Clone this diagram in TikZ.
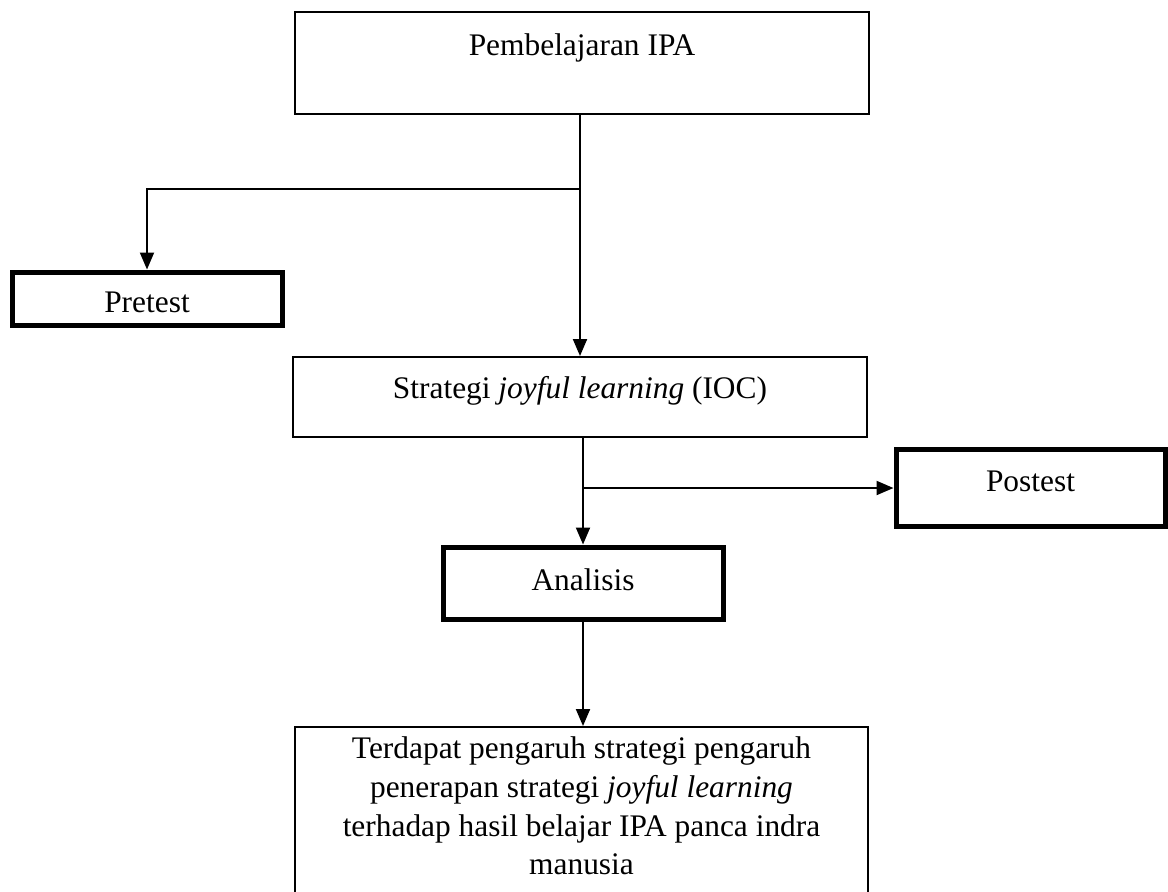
\documentclass[tikz,border=0pt]{standalone}
\usepackage{fontspec}
\setmainfont{Liberation Serif}
\usetikzlibrary{arrows.meta}
\begin{document}
\begin{tikzpicture}[x=0.5pt,y=-0.5pt,
  font=\fontsize{15.7}{19.35}\selectfont,
  thinbox/.style={draw, line width=1pt, inner sep=0pt, rectangle},
  thickbox/.style={draw, line width=2.5pt, inner sep=0pt, rectangle},
  conn/.style={line width=1pt, -{Triangle[length=8.5pt,width=7pt]}}
]
\useasboundingbox (0,0) rectangle (1168,891);
\clip (0,0) rectangle (1168,891);
\fill[white] (0,0) rectangle (1168,891);

% boxes
\node[thinbox, anchor=base, minimum width=287pt, text height=21.5pt, text depth=29.5pt] (top) at (582,55) {Pembelajaran IPA};
\node[thickbox, anchor=base, minimum width=135pt, text height=20pt, text depth=6.5pt] (pre) at (147,312) {Pretest};
\node[thinbox, anchor=base, minimum width=287pt, text height=20.5pt, text depth=19.5pt] (strat) at (580,398) {Strategi \textit{joyful learning} (IOC)};
\node[thickbox, anchor=base, minimum width=134.5pt, text height=21pt, text depth=17.5pt] (post) at (1030.5,491) {Postest};
\node[thickbox, anchor=base, minimum width=140pt, text height=21.5pt, text depth=14.5pt] (ana) at (583,590) {Analisis};
\node[thinbox, anchor=north, minimum width=286.5pt, minimum height=110pt] (res) at (581.5,726) {};
\node[anchor=north, inner sep=0pt, align=center] (restext) at (581.5,736.5) {Terdapat pengaruh strategi pengaruh\\penerapan strategi \textit{joyful learning}\\terhadap hasil belajar IPA panca indra\\manusia};

% connectors
\draw[conn] (strat.north |- top.south) -- (strat.north);
\coordinate (b1) at (strat.north |- 0,189);
\draw[conn] (b1) -| (pre.north);
\draw[conn] (ana.north |- strat.south) -- (ana.north);
\coordinate (b2) at (ana.north |- 0,488);
\draw[conn] (b2) -- (b2 -| post.west);
\draw[conn] (ana.south) -- (ana.south |- res.north);
\end{tikzpicture}
\end{document}
